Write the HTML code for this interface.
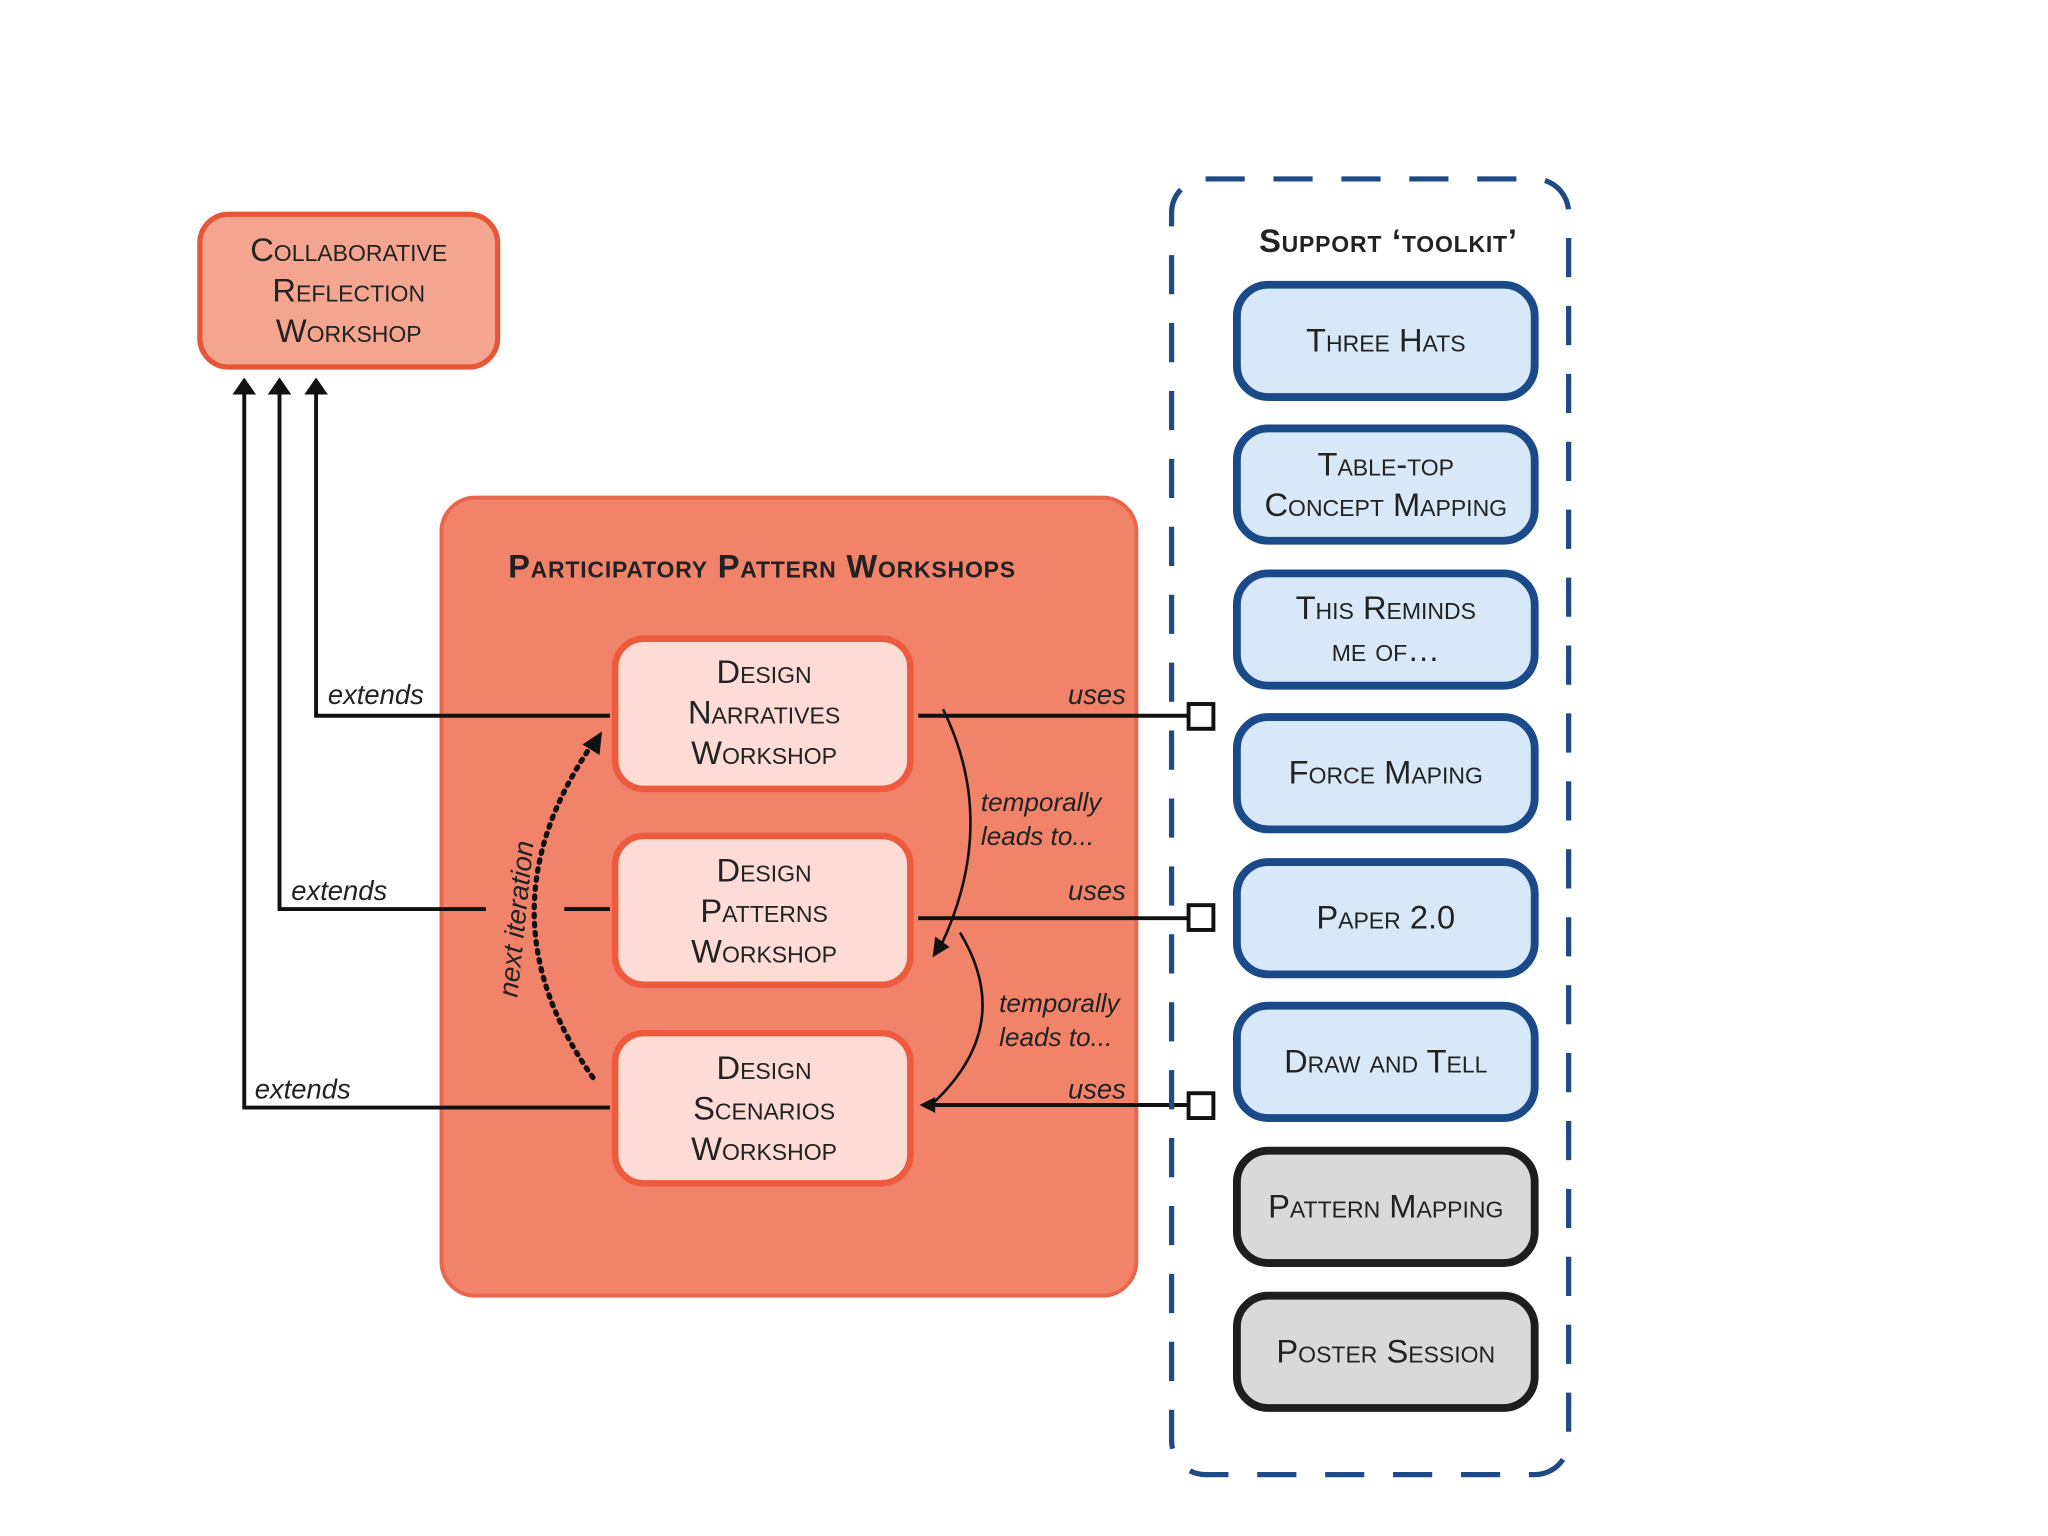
<!DOCTYPE html>
<html><head><meta charset="utf-8"><style>
html,body{margin:0;padding:0;background:#fff;}
svg{display:block;}
text{font-family:"Liberation Sans",sans-serif;fill:#222;}
.sc{font-variant:small-caps;font-size:25px;text-anchor:middle;}
.it{font-style:italic;font-size:21px;}
</style></head><body>
<svg width="2048" height="1536" viewBox="0 0 1568 1176" xmlns="http://www.w3.org/2000/svg">
<rect width="1568" height="1176" fill="#fff"/>
<!-- collab -->
<rect x="153" y="164" width="228" height="117" rx="22" fill="#f4a590" stroke="#e8563a" stroke-width="4"/>
<text class="sc" x="267" y="200">Collaborative</text>
<text class="sc" x="267" y="231">Reflection</text>
<text class="sc" x="267" y="262">Workshop</text>
<!-- big box -->
<rect x="338" y="381" width="532" height="611" rx="26" fill="#f0836a" stroke="#e8674c" stroke-width="3"/>
<text x="389" y="442" style="font-variant:small-caps;font-weight:bold;font-size:25px;letter-spacing:0.6px">Participatory Pattern Workshops</text>
<!-- extends lines -->
<g stroke="#111" stroke-width="3" fill="none">
<path d="M242,302 V548 H467"/>
<path d="M214,302 V696 H372 M432,696 H467"/>
<path d="M187,302 V848 H467"/>
</g>
<path d="M242,289 l-9,13 h18 z M214,289 l-9,13 h18 z M187,289 l-9,13 h18 z" fill="#111"/>
<text class="it" x="251" y="539">extends</text>
<text class="it" x="223" y="689">extends</text>
<text class="it" x="195" y="841">extends</text>
<!-- inner boxes -->
<g fill="#fcdcd4" stroke="#ee5a3e" stroke-width="5">
<rect x="471" y="489" width="226" height="115" rx="22"/>
<rect x="471" y="640" width="226" height="114" rx="22"/>
<rect x="471" y="791" width="226" height="115" rx="22"/>
</g>
<text class="sc" x="585" y="523">Design</text><text class="sc" x="585" y="554">Narratives</text><text class="sc" x="585" y="585">Workshop</text>
<text class="sc" x="585" y="675">Design</text><text class="sc" x="585" y="706">Patterns</text><text class="sc" x="585" y="737">Workshop</text>
<text class="sc" x="585" y="826">Design</text><text class="sc" x="585" y="857">Scenarios</text><text class="sc" x="585" y="888">Workshop</text>
<!-- uses lines -->
<g stroke="#111" stroke-width="3" fill="none">
<path d="M703,548 H910 M703,703 H910 M712,846 H910"/>
</g>
<path d="M704,846 l12,-6 v12 z" fill="#111"/>
<g fill="#fff" stroke="#111" stroke-width="3">
<rect x="910" y="539" width="19" height="19"/>
<rect x="910" y="693" width="19" height="19"/>
<rect x="910" y="837" width="19" height="19"/>
</g>
<text class="it" x="862" y="539" text-anchor="end">uses</text>
<text class="it" x="862" y="689" text-anchor="end">uses</text>
<text class="it" x="862" y="841" text-anchor="end">uses</text>
<!-- temporal arcs -->
<g stroke="#111" stroke-width="2" fill="none">
<path d="M722,543 Q765,630 720,725"/>
<path d="M735,714 Q778,785 714,845"/>
</g>
<path d="M714,733 l2,-16 l11,8 z" fill="#111"/>
<text class="it" x="751" y="621" style="font-size:20px">temporally</text>
<text class="it" x="751" y="647" style="font-size:20px">leads to...</text>
<text class="it" x="765" y="775" style="font-size:20px">temporally</text>
<text class="it" x="765" y="801" style="font-size:20px">leads to...</text>
<!-- dotted next iteration -->
<path d="M454,825 Q365,700 452,572" stroke="#111" stroke-width="4" fill="none" stroke-dasharray="2 5" stroke-linecap="round"/>
<path d="M461,560 l-2,18 l-13,-8 z" fill="#111"/>
<text class="it" x="0" y="0" transform="translate(396,764) rotate(-84)">next  iteration</text>
<!-- toolkit -->
<rect x="897" y="137" width="304" height="992" rx="26" fill="none" stroke="#1f4a85" stroke-width="4" stroke-dasharray="30 22"/>
<text x="1063" y="193" text-anchor="middle" style="font-variant:small-caps;font-weight:bold;font-size:25px;letter-spacing:0.6px">Support ‘toolkit’</text>
<g fill="#d7e9f8" stroke="#1a4a88" stroke-width="6">
<rect x="947" y="218" width="228" height="86" rx="24"/>
<rect x="947" y="328" width="228" height="86" rx="24"/>
<rect x="947" y="439" width="228" height="86" rx="24"/>
<rect x="947" y="549" width="228" height="86" rx="24"/>
<rect x="947" y="660" width="228" height="86" rx="24"/>
<rect x="947" y="770" width="228" height="86" rx="24"/>
</g>
<g fill="#d9d9d9" stroke="#1e1e1e" stroke-width="6">
<rect x="947" y="881" width="228" height="86" rx="24"/>
<rect x="947" y="992" width="228" height="86" rx="24"/>
</g>
<text class="sc" x="1061" y="269">Three Hats</text>
<text class="sc" x="1061" y="364">Table-top</text><text class="sc" x="1061" y="395">Concept Mapping</text>
<text class="sc" x="1061" y="474">This Reminds</text><text class="sc" x="1061" y="506">me of…</text>
<text class="sc" x="1061" y="600">Force Maping</text>
<text class="sc" x="1061" y="711">Paper 2.0</text>
<text class="sc" x="1061" y="821">Draw and Tell</text>
<text class="sc" x="1061" y="932">Pattern Mapping</text>
<text class="sc" x="1061" y="1043">Poster Session</text>
</svg>
</body></html>
